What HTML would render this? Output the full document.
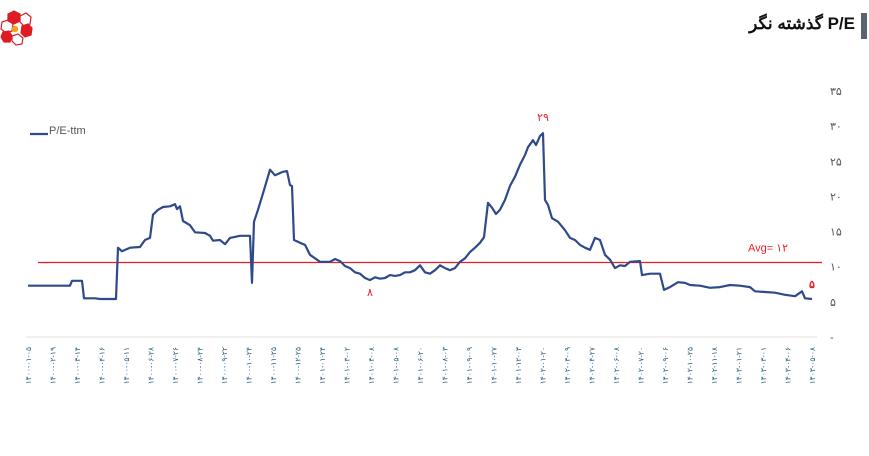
<!DOCTYPE html>
<html><head><meta charset="utf-8">
<style>
html,body{margin:0;padding:0;background:#fff;}
body{width:869px;height:456px;overflow:hidden;position:relative;font-family:"Liberation Sans","Noto Sans CJK SC",sans-serif;}
#title{position:absolute;right:14px;top:14px;font-size:17px;font-weight:bold;color:#111;direction:rtl;}
#title-bar{position:absolute;right:2px;top:13px;width:6px;height:26px;background:#5a6372;}
</style></head>
<body>
<div id="title-bar"></div>
<div id="title">P/E گذشته نگر</div>
<svg id="logo" width="36" height="36" viewBox="0 0 36 36" style="position:absolute;left:0;top:10px">
<g stroke="#d81e2a" stroke-width="1.2" fill="none">
<polygon points="8,4 14,1 20,4 20,11 14,14 8,11" fill="#e11b22"/>
<polygon points="20,6 26,3 31,7 30,14 24,16 20,12"/>
<polygon points="2,12 8,10 13,14 12,21 6,23 1,19"/>
<polygon points="22,16 28,14 32,18 31,25 25,27 21,23" fill="#e11b22"/>
<polygon points="3,22 9,21 12,26 10,32 4,32 1,27" fill="#e11b22"/>
<polygon points="12,26 18,24 23,28 22,34 16,35 12,31"/>
</g><circle cx="15" cy="19" r="3.2" fill="#f5a21b"/>
</svg>
<svg id="chart" width="869" height="456" style="position:absolute;left:0;top:0"></svg>
<script>
const yTicks=[0,5,10,15,20,25,30,35];
const yTickLabels=["-","۵","۱۰","۱۵","۲۰","۲۵","۳۰","۳۵"];
const xLabels=["۱۴۰۰-۰۱-۰۵","۱۴۰۰-۰۲-۱۹","۱۴۰۰-۰۳-۱۴","۱۴۰۰-۰۴-۱۶","۱۴۰۰-۰۵-۱۱","۱۴۰۰-۰۶-۲۸","۱۴۰۰-۰۷-۲۶","۱۴۰۰-۰۸-۲۴","۱۴۰۰-۰۹-۲۲","۱۴۰۰-۱۰-۲۴","۱۴۰۰-۱۱-۲۵","۱۴۰۰-۱۲-۲۵","۱۴۰۱-۰۱-۲۴","۱۴۰۱-۰۳-۰۲","۱۴۰۱-۰۴-۰۸","۱۴۰۱-۰۵-۰۸","۱۴۰۱-۰۶-۲۰","۱۴۰۱-۰۸-۰۳","۱۴۰۱-۰۹-۰۹","۱۴۰۱-۱۰-۲۷","۱۴۰۱-۱۲-۰۳","۱۴۰۲-۰۱-۲۰","۱۴۰۲-۰۳-۰۹","۱۴۰۲-۰۴-۲۷","۱۴۰۲-۰۶-۰۸","۱۴۰۲-۰۷-۲۰","۱۴۰۲-۰۹-۰۶","۱۴۰۲-۱۰-۲۵","۱۴۰۲-۱۱-۱۸","۱۴۰۳-۰۱-۲۱","۱۴۰۳-۰۳-۰۱","۱۴۰۳-۰۴-۰۶","۱۴۰۳-۰۵-۰۸"];
const t=[0,42,44,54,56,67,72,88,90,94,102,112,117,122,125,130,135,142,147,149,152,155,162,167,177,182,185,192,197,202,212,222,224,226,230,236,242,247,255,259,262,264,266,272,277,282,287,292,302,307,312,317,322,327,332,337,342,347,352,357,362,367,372,377,382,387,392,397,402,407,412,417,422,427,432,437,442,447,452,456,460,464,468,472,477,482,487,492,497,500,505,508,512,515,517,520,524,530,537,542,547,552,557,562,567,572,577,582,587,592,597,602,612,614,622,632,636,642,650,657,662,672,682,692,702,712,722,727,737,747,757,767,774,777,784];
const pe=[7.3,7.3,8.0,8.0,5.5,5.5,5.4,5.4,12.7,12.2,12.7,12.8,13.8,14.1,17.4,18.1,18.5,18.6,18.9,18.2,18.6,16.5,15.9,14.9,14.8,14.4,13.7,13.8,13.2,14.1,14.4,14.4,7.7,16.4,18.1,20.9,23.8,23.0,23.5,23.6,21.6,21.5,13.8,13.4,13.1,11.7,11.2,10.7,10.7,11.1,10.8,10.1,9.8,9.2,9.0,8.4,8.1,8.5,8.3,8.4,8.8,8.7,8.8,9.2,9.2,9.5,10.2,9.2,9.0,9.5,10.2,9.8,9.5,9.8,10.7,11.2,12.1,12.7,13.4,14.2,19.1,18.4,17.5,18.1,19.5,21.5,22.8,24.5,25.9,27.0,28.0,27.3,28.6,29.0,19.5,18.8,16.9,16.4,15.2,14.1,13.8,13.1,12.7,12.4,14.1,13.8,11.7,11.0,9.8,10.2,10.1,10.7,10.8,8.8,9.0,9.0,6.7,7.1,7.8,7.7,7.4,7.3,7.0,7.1,7.4,7.3,7.1,6.5,6.4,6.3,6.0,5.8,6.5,5.5,5.4];
const avgValue=10.6;
const avgLabel="Avg= ۱۲";

const NS="http://www.w3.org/2000/svg";
const svg=document.getElementById('chart');
const X0=28,X1=812,Y0=337,Y35=91,tMax=784;
function xs(v){return X0+(v/tMax)*(X1-X0);}
function ys(v){return Y0-(v/35)*(Y0-Y35);}
function el(tag,attrs,txt){const e=document.createElementNS(NS,tag);for(const k in attrs)e.setAttribute(k,attrs[k]);if(txt!==undefined)e.textContent=txt;svg.appendChild(e);return e;}
const fa=s=>String(s).replace(/[0-9]/g,d=>"۰۱۲۳۴۵۶۷۸۹"[d]);

let ax=el('line',{x1:X0-2,y1:Y0,x2:X1+5,y2:Y0,stroke:'#e2e2e2','stroke-width':1});



yTicks.forEach((v,i)=>{
 const tx=el('text',{x:830,y:ys(v)+4,'font-size':11,fill:'#555'},yTickLabels[i]);
 
 
});

xLabels.forEach((lab,i)=>{
 const x=X0+i*(X1-X0)/(xLabels.length-1);
 const tx=el('text',{x:0,y:0,'font-size':7.5,fill:'#2b5f7a','text-anchor':'end',transform:`translate(${x+3},347) rotate(-90)`},lab);
 
 
});

const avg=el('line',{x1:38,y1:ys(avgValue),x2:822,y2:ys(avgValue),stroke:'#ee1c25','stroke-width':1.3});


const avgT=el('text',{x:748,y:ys(avgValue)-11,'font-size':11,fill:'#ee1c25'},avgLabel);



const n=Math.min(t.length,pe.length);
let d='';
for(let i=0;i<n;i++){d+=(i?'L':'M')+xs(t[i]).toFixed(1)+','+ys(pe[i]).toFixed(1)+' ';}
const line=el('path',{d:d,fill:'none',stroke:'#2e4a8a','stroke-width':2.2,'stroke-linejoin':'round'});



let iMax=0;for(let i=0;i<n;i++){if(pe[i]>pe[iMax])iMax=i;}
let iMin=-1;for(let i=0;i<n;i++){if(t[i]>300&&t[i]<420&&(iMin<0||pe[i]<pe[iMin]))iMin=i;}
const mx=el('text',{x:xs(t[iMax]),y:ys(pe[iMax])-12,'font-size':11,fill:'#ee1c25','text-anchor':'middle'},fa(Math.round(pe[iMax])));


const mn=el('text',{x:xs(t[iMin]),y:ys(pe[iMin])+16,'font-size':11,fill:'#ee1c25','text-anchor':'middle'},fa(Math.round(pe[iMin])));


const last=n-1;
const lt=el('text',{x:xs(t[last]),y:ys(pe[last])-11,'font-size':11,fill:'#ee1c25','text-anchor':'middle','font-weight':'bold'},fa(Math.round(pe[last])));



const lg=el('line',{x1:30,y1:134,x2:48,y2:134,stroke:'#2e4a8a','stroke-width':2.2});


const lgt=el('text',{x:49,y:134,'font-size':11,fill:'#555'},'P/E-ttm');


</script>
</body></html>
